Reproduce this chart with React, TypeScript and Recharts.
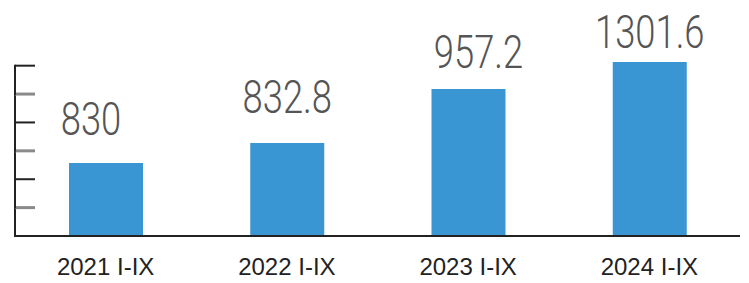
import { Bar, BarChart, LabelList, XAxis, YAxis } from "recharts";

// categories and printed values
const PERIODS = ["2021 I-IX", "2022 I-IX", "2023 I-IX", "2024 I-IX"];
const VALUES = [830, 832.8, 957.2, 1301.6];
// bar heights as drawn in the picture, in axis-tick units (the picture is not to scale)
const BAR_LEVELS = [2.57, 3.28, 5.18, 6.13];
const Y_TICKS = [0, 1, 2, 3, 4, 5, 6];

const W = 749;
const H = 283;
const TOP = 60;
const BASE = 236;
const Y_MAX = 6.2;
const UNIT = (BASE - TOP) / Y_MAX;

const BLUE = "#3a95d3";
// small per-label nudges so the labels sit where the picture puts them
const LABEL_NUDGE = [
  { dx: -15, gap: 28 },
  { dx: 0, gap: 30 },
  { dx: 10, gap: 21 },
  { dx: 0, gap: 14 },
];

const data = PERIODS.map((p, i) => ({
  period: p,
  level: BAR_LEVELS[i],
  value: VALUES[i],
}));

const YTick = (props: any) => {
  const { x, y, payload } = props;
  const v = payload.value as number;
  const grey = v % 2 === 1;
  if (v === 0) return <g />;
  return (
    <g>
      <line x1={x} x2={x} y1={y - 1} y2={y + UNIT + 1} stroke="#222" strokeWidth={2} />
      <line
        x1={x}
        x2={x + 20}
        y1={y}
        y2={y}
        stroke={grey ? "#8a8a8a" : "#222"}
        strokeWidth={grey ? 3 : 2}
      />
    </g>
  );
};

const ValueLabel = (props: any) => {
  const { x, y, width, index, value } = props;
  const n = LABEL_NUDGE[index] ?? { dx: 0, gap: 20 };
  const cx = x + width / 2 + n.dx;
  return (
    <text
      transform={`translate(${cx},${y - n.gap}) scale(0.79,1)`}
      textAnchor="middle"
      fill="#555"
      fontSize={46}
      fontWeight={300}
      fontFamily="Roboto, sans-serif"
    >
      {value}
    </text>
  );
};

export default function App() {
  return (
    <div style={{ position: "absolute", left: 0, top: 0, background: "#fff" }}>
      <BarChart
        width={W}
        height={H}
        data={data}
        margin={{ top: TOP, right: 9, bottom: 0, left: 14 }}
      >
        <XAxis
          dataKey="period"
          height={H - BASE}
          tickLine={false}
          tickSize={0}
          tickMargin={22}
          axisLine={{ stroke: "#222", strokeWidth: 2 }}
          tick={{
            fill: "#222",
            fontSize: 24,
            fontFamily: "'Liberation Sans', Arial, sans-serif",
          }}
        />
        <YAxis
          type="number"
          domain={[0, Y_MAX]}
          ticks={Y_TICKS}
          width={1}
          axisLine={false}
          tickLine={false}
          tickSize={0}
          tickMargin={0}
          tick={(p: any) => <YTick {...p} />}
        />
        <Bar dataKey="level" fill={BLUE} barSize={74} isAnimationActive={false}>
          <LabelList dataKey="value" content={<ValueLabel />} />
        </Bar>
      </BarChart>
    </div>
  );
}
